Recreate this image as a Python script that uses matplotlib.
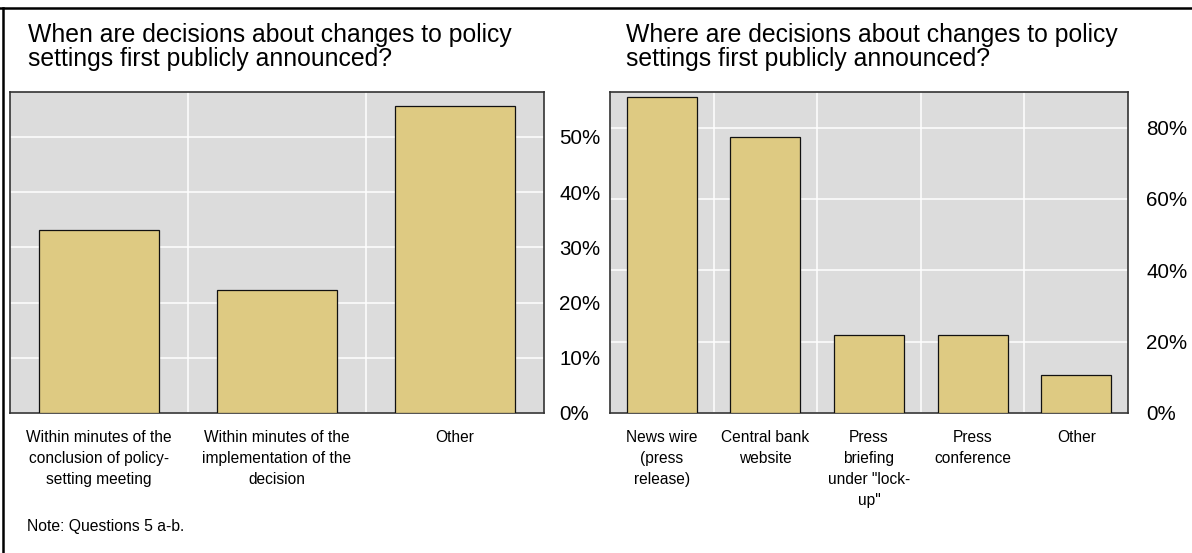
import matplotlib.pyplot as plt
from matplotlib.lines import Line2D
from matplotlib.ticker import FixedLocator

plt.rcParams['font.family'] = ['Liberation Sans', 'DejaVu Sans']

# data
cats_when = ["Within minutes of the\nconclusion of policy-\nsetting meeting",
             "Within minutes of the\nimplementation of the\ndecision",
             "Other"]
vals_when = [33.2, 22.3, 55.6]
ticks_when = [0, 10, 20, 30, 40, 50]

cats_where = ["News wire\n(press\nrelease)", "Central bank\nwebsite",
              "Press\nbriefing\nunder \"lock-\nup\"", "Press\nconference", "Other"]
vals_where = [88.6, 77.3, 22.0, 22.0, 10.6]
ticks_where = [0, 20, 40, 60, 80]

W, H = 1192, 553
fig = plt.figure(figsize=(W / 100, H / 100), dpi=100)

bar_col = '#DECA82'
bg = '#DCDCDC'


def panel(rect, cats, vals, ticks, ytop, ypad):
    ax = fig.add_axes(rect)
    ax.set_facecolor(bg)
    x = range(len(cats))
    ax.bar(x, vals, width=0.675, color=bar_col, edgecolor='#111111', linewidth=0.9, zorder=3)
    ax.set_xlim(-0.5, len(cats) - 0.5)
    ax.set_ylim(0, ytop)
    ax.set_yticks(ticks)
    ax.set_yticklabels([f"{t}%" for t in ticks])
    ax.yaxis.tick_right()
    ax.tick_params(axis='y', length=0, pad=ypad, labelsize=14.8)
    for lab in ax.get_yticklabels():
        lab.set_horizontalalignment('left')
    ax.set_xticks(list(x))
    ax.set_xticklabels(cats, fontsize=11.2, linespacing=1.5, va='top')
    ax.tick_params(axis='x', length=0, pad=12)
    ax.xaxis.set_minor_locator(FixedLocator([i + 0.5 for i in range(len(cats) - 1)]))
    ax.grid(axis='y', which='major', color='white', linewidth=1.1, zorder=1)
    ax.grid(axis='x', which='minor', color='white', linewidth=1.1, zorder=1)
    ax.tick_params(axis='x', which='minor', length=0)
    ax.set_axisbelow(True)
    for s in ax.spines.values():
        s.set_color('#333333')
        s.set_linewidth(1.2)
    return ax


panel([10 / W, 1 - 413 / H, 534 / W, 321 / H], cats_when, vals_when, ticks_when, 58.1, 11)
panel([610 / W, 1 - 413 / H, 518 / W, 321 / H], cats_where, vals_where, ticks_where, 90, 13)

fig.text(28 / W, 1 - 23 / H, "When are decisions about changes to policy\nsettings first publicly announced?",
         fontsize=17.8, va='top', ha='left', linespacing=1.02)
fig.text(626 / W, 1 - 23 / H, "Where are decisions about changes to policy\nsettings first publicly announced?",
         fontsize=17.8, va='top', ha='left', linespacing=1.02)
fig.text(27 / W, 1 - 527 / H, "Note: Questions 5 a-b.", fontsize=11.3, va='center', ha='left')

# frame lines (top and left)
fig.add_artist(Line2D([0, 1], [1 - 8 / H, 1 - 8 / H], transform=fig.transFigure, color='black', linewidth=1.8))
fig.add_artist(Line2D([3 / W, 3 / W], [0, 1 - 8 / H], transform=fig.transFigure, color='black', linewidth=1.8))

fig.savefig('out.png', dpi=100)
